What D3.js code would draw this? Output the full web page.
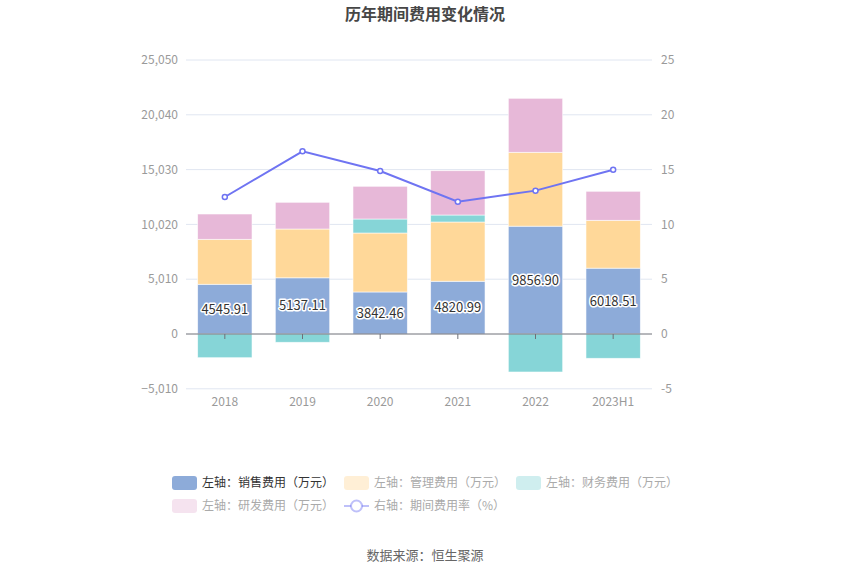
<!DOCTYPE html>
<html><head><meta charset="utf-8">
<script src="https://cdn.jsdelivr.net/npm/d3@7"></script>
<style>body{margin:0;background:#fff;}svg{display:block;font-family:"Noto Sans CJK SC","Noto Sans",sans-serif;}</style>
</head><body><svg id="c" width="850" height="575"></svg>
<script>
const categories = ["2018","2019","2020","2021","2022","2023H1"];
const sales = [4545.91, 5137.11, 3842.46, 4820.99, 9856.90, 6018.51];
const management = [4111, 4462, 5391, 5418, 6754, 4376];
const finance = [-2167, -759, 1280, 640, -3474, -2222];
const rnd = [2313, 2441, 2990, 4050, 4937, 2652];
const rate = [12.5, 16.67, 14.87, 12.07, 13.08, 14.99];
const leftTicks = [-5010, 0, 5010, 10020, 15030, 20040, 25050];
const rightTicks = [-5, 0, 5, 10, 15, 20, 25];
const seriesNames = ["左轴：销售费用（万元）","左轴：管理费用（万元）","左轴：财务费用（万元）","左轴：研发费用（万元）","右轴：期间费用率（%）"];
const colors = ["#8dabd9","#ffd899","#86d5d7","#e7b8d8","#6f74f2"];

const svg = d3.select("#c");
const x0 = 186, x1 = 652;
const x = d3.scaleBand().domain(categories).range([x0, x1]).paddingInner(0.3).paddingOuter(0.15);
const xc = d3.scaleBand().domain(categories).range([x0, x1]);
const yL = d3.scaleLinear().domain([-5010, 25050]).range([388.8, 60]);
const yR = d3.scaleLinear().domain([-5, 25]).range([388.8, 60]);

// title
svg.append("text").attr("x",425).attr("y",20).attr("text-anchor","middle")
  .attr("font-size",16).attr("font-weight","bold").attr("fill","#464646").text("历年期间费用变化情况");

// grid
svg.append("g").selectAll("line").data(leftTicks.filter(d=>d!==0)).join("line")
  .attr("x1",x0).attr("x2",x1).attr("y1",d=>yL(d)).attr("y2",d=>yL(d))
  .attr("stroke","#e0e6f1").attr("stroke-width",1);

// left axis labels
svg.append("g").selectAll("text").data(leftTicks).join("text")
  .attr("x",178).attr("y",d=>yL(d)).attr("dy","0.35em").attr("text-anchor","end")
  .attr("font-size",12).attr("fill","#9a9a9a").text(d=>d3.format(",")(d));
// right axis labels
svg.append("g").selectAll("text").data(rightTicks).join("text")
  .attr("x",661).attr("y",d=>yR(d)).attr("dy","0.35em").attr("text-anchor","start")
  .attr("font-size",12).attr("fill","#9a9a9a").text(d=>d);

// stacked bars
const stackSeries = [sales, management, finance, rnd];
const rects = [];
categories.forEach((c,i)=>{
  let pos = 0, neg = 0;
  stackSeries.forEach((s,k)=>{
    const v = s[i];
    let a, b;
    if (v >= 0) { a = pos; b = pos + v; pos = b; } else { a = neg; b = neg + v; neg = b; }
    rects.push({c, k, a, b});
  });
});
svg.append("g").selectAll("rect").data(rects).join("rect")
  .attr("x",d=>x(d.c)).attr("width",x.bandwidth())
  .attr("y",d=>Math.min(yL(d.a),yL(d.b))).attr("height",d=>Math.abs(yL(d.a)-yL(d.b)))
  .attr("fill",d=>colors[d.k]).attr("stroke","#fff").attr("stroke-width",0.8).attr("stroke-opacity",0.7);

// x axis line and ticks
svg.append("line").attr("x1",x0).attr("x2",x1).attr("y1",yL(0)).attr("y2",yL(0)).attr("stroke","#6e7079");
svg.append("g").selectAll("line").data(categories).join("line")
  .attr("x1",d=>xc(d)+xc.bandwidth()/2).attr("x2",d=>xc(d)+xc.bandwidth()/2)
  .attr("y1",yL(0)).attr("y2",yL(0)+5).attr("stroke","#6e7079");
// category labels
svg.append("g").selectAll("text").data(categories).join("text")
  .attr("x",d=>xc(d)+xc.bandwidth()/2).attr("y",402).attr("dy","0.35em").attr("text-anchor","middle")
  .attr("font-size",12).attr("fill","#9a9a9a").text(d=>d);

// bar labels
const lbl = svg.append("g").selectAll("text").data(categories).join("text")
  .attr("x",d=>x(d)+x.bandwidth()/2).attr("y",(d,i)=>yL(sales[i]/2)).attr("dy","0.35em")
  .attr("text-anchor","middle").attr("font-size",13).attr("fill","#333")
  .attr("stroke","#fff").attr("stroke-width",3).attr("paint-order","stroke").attr("stroke-linejoin","round")
  .text((d,i)=>sales[i].toFixed(2));

// line
const line = d3.line().x((d,i)=>xc(categories[i])+xc.bandwidth()/2).y(d=>yR(d));
svg.append("path").datum(rate).attr("d",line).attr("fill","none").attr("stroke",colors[4]).attr("stroke-width",2);
svg.append("g").selectAll("circle").data(rate).join("circle")
  .attr("cx",(d,i)=>xc(categories[i])+xc.bandwidth()/2).attr("cy",d=>yR(d)).attr("r",2.5)
  .attr("fill","#fff").attr("stroke",colors[4]).attr("stroke-width",1.5);

// legend
const legendPos = [[172,483],[344,483],[516,483],[172,506],[344,506]];
const lg = svg.append("g");
seriesNames.forEach((n,k)=>{
  const [lx,ly] = legendPos[k];
  const active = k===0;
  const g = lg.append("g").attr("opacity", 1);
  if (k<4) {
    g.append("rect").attr("x",lx).attr("y",ly-7).attr("width",25).attr("height",14).attr("rx",3)
      .attr("fill",colors[k]).attr("fill-opacity",active?1:0.4);
  } else {
    g.append("line").attr("x1",lx).attr("x2",lx+25).attr("y1",ly).attr("y2",ly)
      .attr("stroke",colors[k]).attr("stroke-opacity",0.45).attr("stroke-width",2);
    g.append("circle").attr("cx",lx+12.5).attr("cy",ly).attr("r",5.5).attr("fill","#fff")
      .attr("stroke",colors[k]).attr("stroke-opacity",0.45).attr("stroke-width",2);
  }
  g.append("text").attr("x",lx+30).attr("y",ly).attr("dy","0.35em").attr("font-size",12)
    .attr("fill",active?"#333":"#aaa").text(n);
});

// source
svg.append("text").attr("x",425).attr("y",555).attr("dy","0.35em").attr("text-anchor","middle")
  .attr("font-size",13).attr("fill","#666").text("数据来源：恒生聚源");
</script></body></html>
